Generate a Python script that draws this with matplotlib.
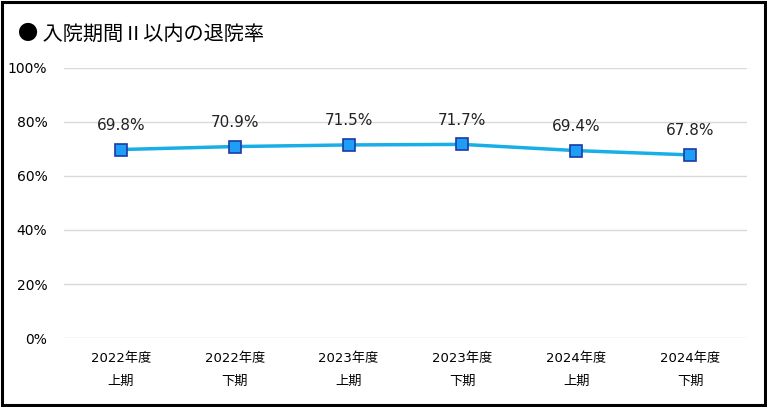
import matplotlib.pyplot as plt
from matplotlib.patches import Rectangle

plt.rcParams['font.family'] = ['DejaVu Sans', 'Noto Sans CJK JP']

periods = ['2022年度\n上期', '2022年度\n下期', '2023年度\n上期',
           '2023年度\n下期', '2024年度\n上期', '2024年度\n下期']
rates = [69.8, 70.9, 71.5, 71.7, 69.4, 67.8]
yticks = [0, 20, 40, 60, 80, 100]

fig = plt.figure(figsize=(7.67, 4.07), dpi=100)
ax = fig.add_axes([0.0834, 0.1695, 0.8906, 0.6635])

x = list(range(len(rates)))
ax.plot(x, rates, color='#1AAEE8', linewidth=2.5, marker='s', markersize=8,
        markerfacecolor='#1E9EF5', markeredgecolor='#1A3AA8', markeredgewidth=1.2,
        zorder=3)
for xi, v in zip(x, rates):
    ax.annotate(f"{v}%", (xi, v), xytext=(0, 17.5), textcoords='offset points',
                ha='center', va='center', fontsize=11, color='#222222')

ax.set_xlim(-0.5, len(rates) - 0.5)
ax.set_ylim(0, 100)
ax.set_yticks(yticks)
ax.set_yticklabels([f"{t}%" for t in yticks], fontsize=10)
ax.set_xticks(x)
ax.set_xticklabels(periods, fontsize=9.5, linespacing=2.0)
ax.tick_params(length=0, pad=10)
ax.tick_params(axis='y', pad=12)
ax.grid(axis='y', color='#D9D9D9', linewidth=1)
ax.set_axisbelow(True)
for s in ax.spines.values():
    s.set_visible(False)

fig.text(0.024, 0.915, "● 入院期間Ⅱ以内の退院率", fontsize=14.5, va='center', ha='left',
         family=['Noto Sans CJK JP', 'DejaVu Sans'])
fig.patches.append(Rectangle((0.002, 0.004), 0.996, 0.992, transform=fig.transFigure,
                             fill=False, edgecolor='black', linewidth=2.2))

plt.savefig("out.png", dpi=100)
